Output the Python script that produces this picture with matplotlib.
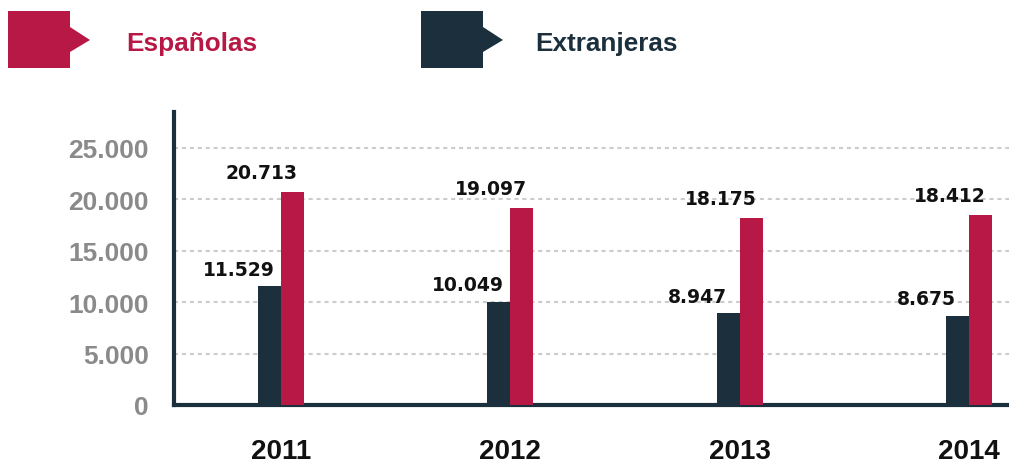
import matplotlib
matplotlib.use("Agg")
import matplotlib.pyplot as plt
from matplotlib.patches import Polygon
import numpy as np

years = ["2011", "2012", "2013", "2014"]
espanolas = [20713, 19097, 18175, 18412]
extranjeras = [11529, 10049, 8947, 8675]
esp_labels = ["20.713", "19.097", "18.175", "18.412"]
ext_labels = ["11.529", "10.049", "8.947", "8.675"]
yticks = [0, 5000, 10000, 15000, 20000, 25000]
ytick_labels = ["0", "5.000", "10.000", "15.000", "20.000", "25.000"]

RED = "#b71845"
DARK = "#1b2f3c"
GRAY = "#8a8a8a"

W, H = 1009, 464
fig = plt.figure(figsize=(W / 100, H / 100), dpi=100)
ax = fig.add_axes([174 / W, 1 - 406 / H, 1 - 174 / W, (406 - 113) / H])

x = np.arange(len(years))
bw = 0.1
ax.bar(x - bw / 2, extranjeras, width=bw, color=DARK, zorder=3)
ax.bar(x + bw / 2, espanolas, width=bw, color=RED, zorder=3)

for xi, v, lab in zip(x - bw / 2, extranjeras, ext_labels):
    ax.annotate(lab, (xi, v), xytext=(-22, 12), textcoords="offset points",
                ha="center", va="center", fontsize=13.5, fontweight="bold",
                family="DejaVu Sans", color="#111111")
for xi, v, lab in zip(x + bw / 2, espanolas, esp_labels):
    ax.annotate(lab, (xi, v), xytext=(-22, 14), textcoords="offset points",
                ha="center", va="center", fontsize=13.5, fontweight="bold",
                family="DejaVu Sans", color="#111111")

ax.set_xlim(-0.467, 3.175)
ax.set_ylim(0, 28450)
ax.set_yticks(yticks)
ax.set_yticklabels(ytick_labels, family="Liberation Sans", fontweight="bold",
                   fontsize=19, color=GRAY)
ax.set_xticks(x)
ax.set_xticklabels(years, family="Liberation Sans", fontweight="bold",
                   fontsize=20, color="#111111")
ax.tick_params(axis="y", length=0, pad=18)
ax.tick_params(axis="x", length=0, pad=24)

ax.yaxis.grid(True, color="#cccccc", linewidth=1.5, linestyle=(0, (2, 1.8)), zorder=0)
ax.set_axisbelow(True)
for s in ["top", "right"]:
    ax.spines[s].set_visible(False)
for s in ["left", "bottom"]:
    ax.spines[s].set_color(DARK)
    ax.spines[s].set_linewidth(3)

# Legend drawn in pixel coordinates on an overlay axes
lax = fig.add_axes([0, 0, 1, 1])
lax.set_xlim(0, W)
lax.set_ylim(H, 0)
lax.axis("off")

def legend_shape(x0, color):
    pts = [(x0, 12), (x0 + 62, 12), (x0 + 62, 28), (x0 + 82, 41),
           (x0 + 62, 53), (x0 + 62, 69), (x0, 69)]
    lax.add_patch(Polygon(pts, closed=True, facecolor=color, edgecolor="none"))

legend_shape(8, RED)
lax.text(126, 44, "Españolas", family="Liberation Sans", fontweight="bold",
         fontsize=18.8, color=RED, va="center", ha="left")
legend_shape(421, DARK)
lax.text(535, 44, "Extranjeras", family="Liberation Sans", fontweight="bold",
         fontsize=18.8, color=DARK, va="center", ha="left")

fig.savefig("out.png", dpi=100, facecolor="white")
